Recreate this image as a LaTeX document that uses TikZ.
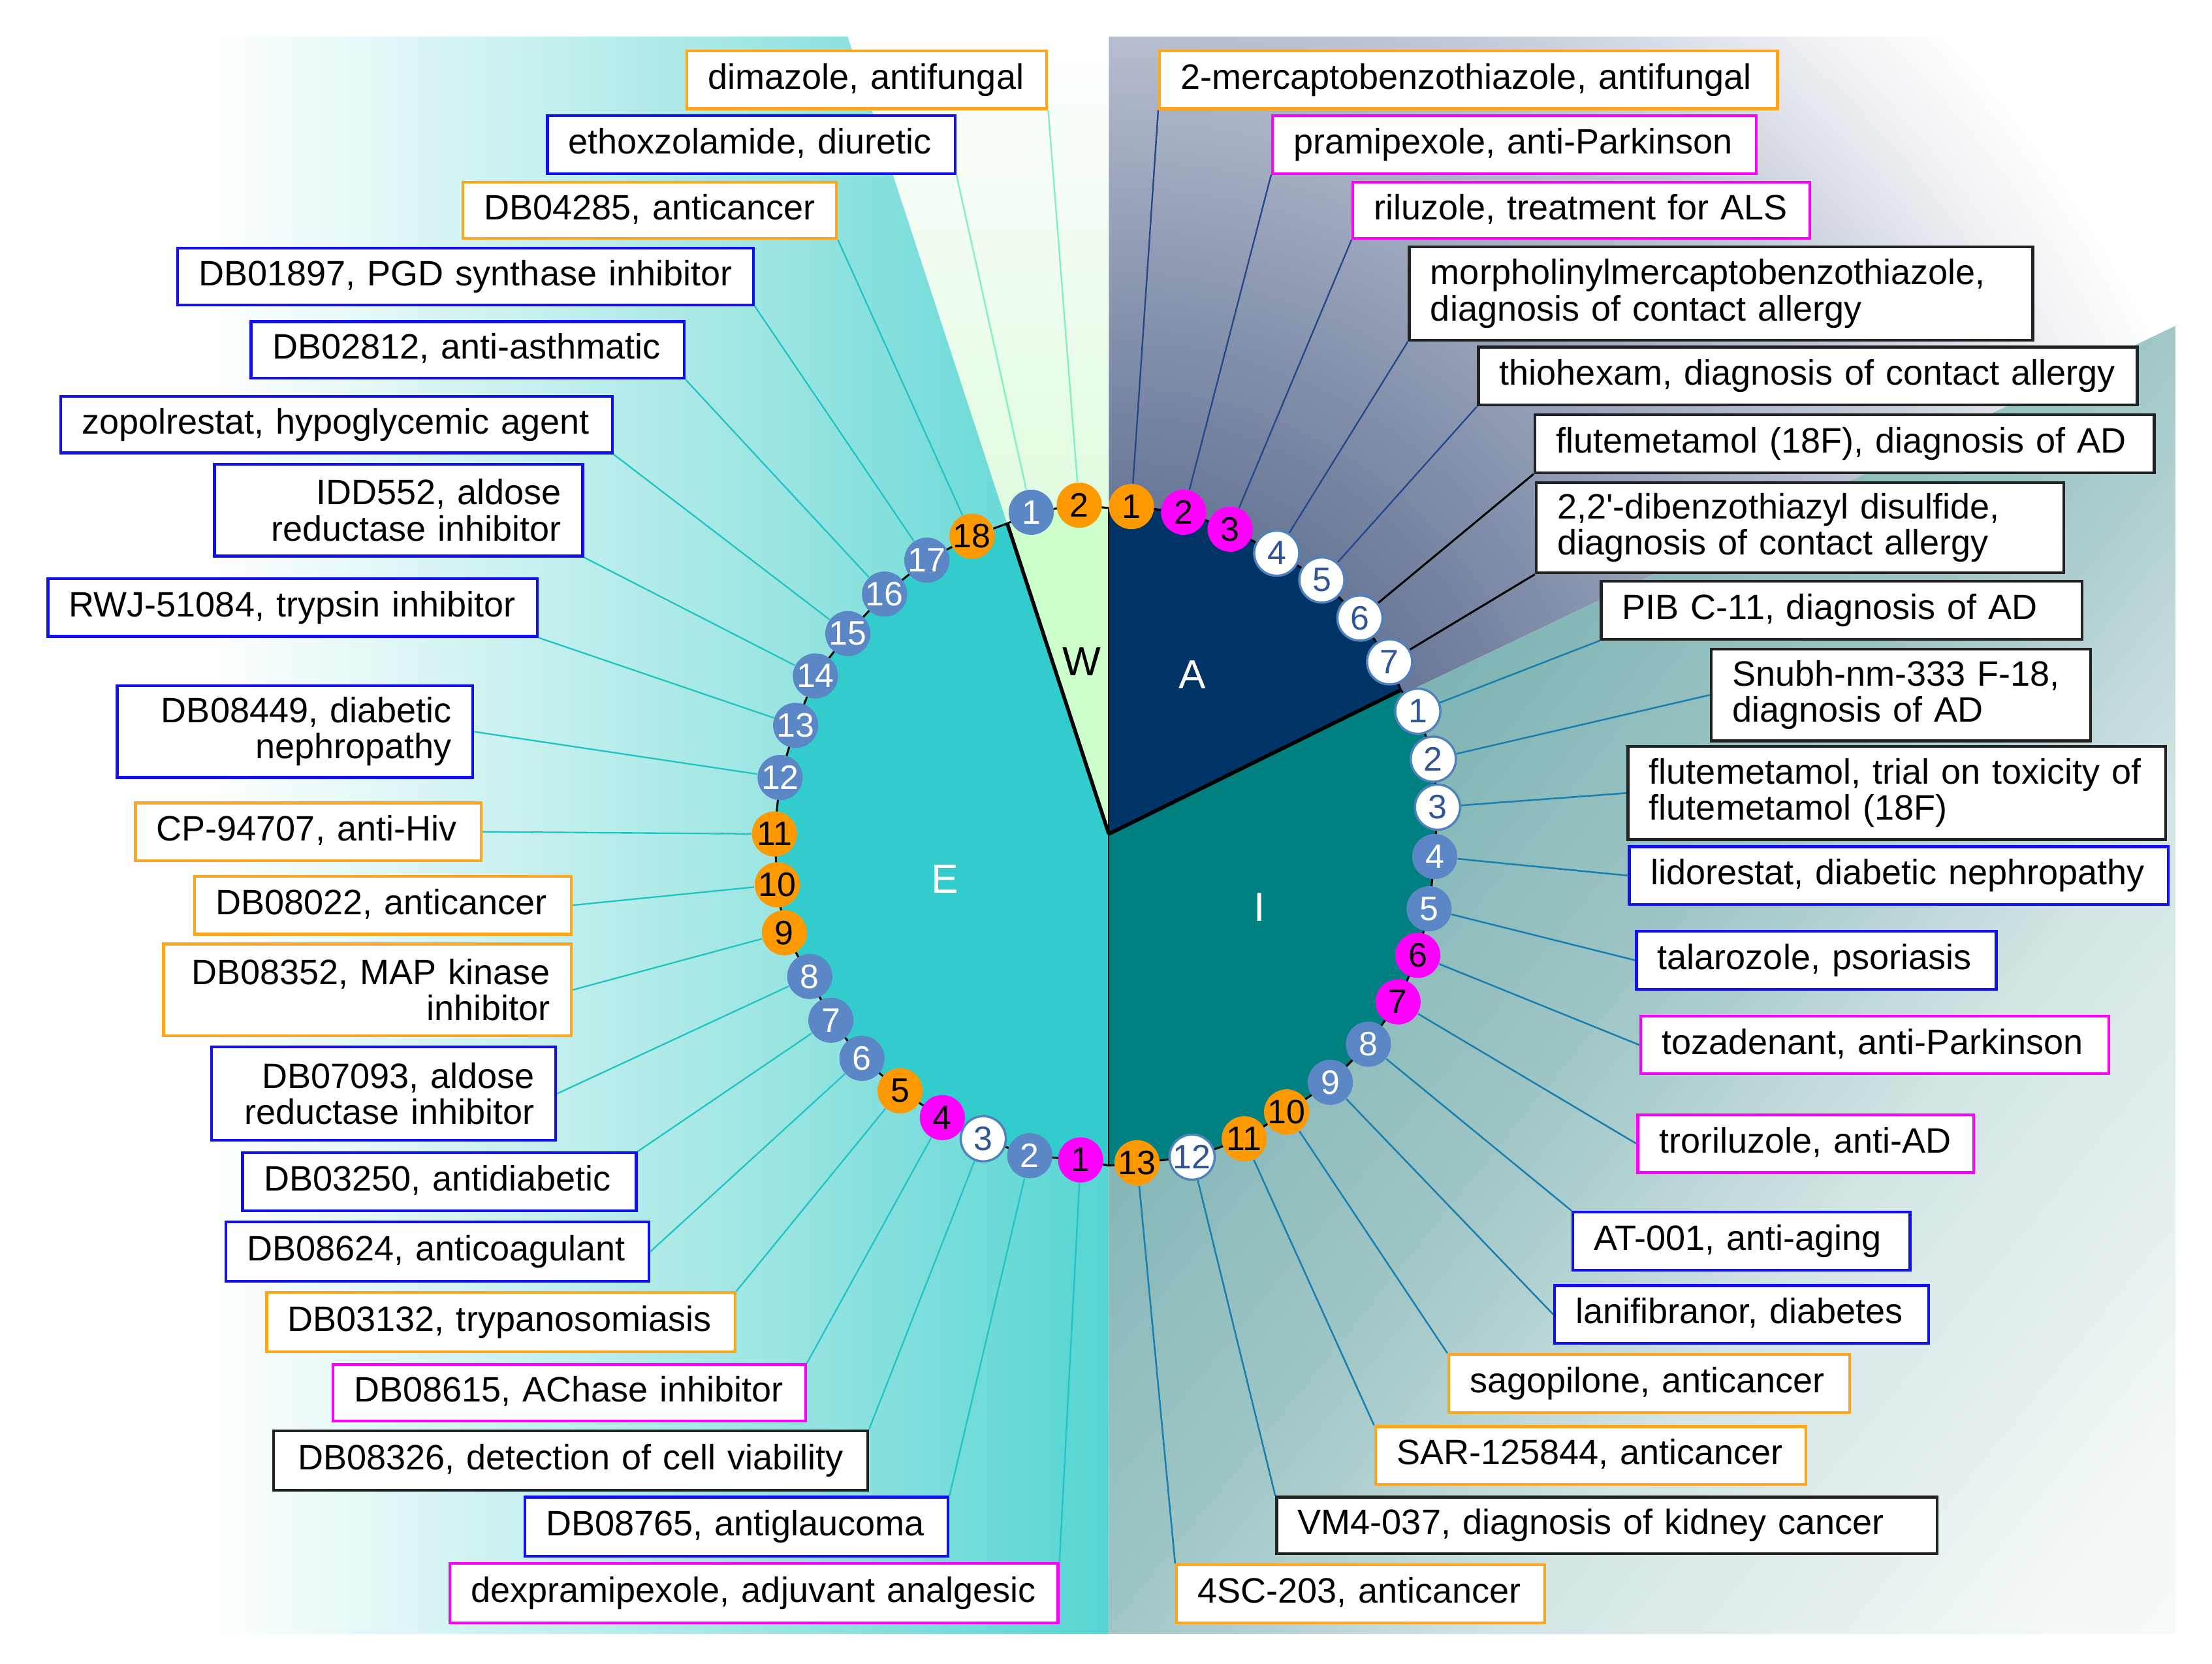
\documentclass[tikz,border=0pt]{standalone}
\usepackage{fontspec}
\setmainfont{Liberation Sans}[Ligatures=TeXOff]
\usetikzlibrary{calc}
\pgfdeclarelayer{back}
\pgfdeclarelayer{mid}
\pgfsetlayers{back,mid,main}
\definecolor{cE}{HTML}{33CCCC}
\definecolor{cW}{HTML}{CCFFCC}
\definecolor{cA}{HTML}{003366}
\definecolor{cI}{HTML}{008080}
\definecolor{e1}{HTML}{93E3E0}
\definecolor{e2}{HTML}{55D5D2}
\definecolor{wB}{HTML}{E0FBE0}
\definecolor{a0}{HTML}{56668A}
\definecolor{a1}{HTML}{6A7898}
\definecolor{a2}{HTML}{97A1B8}
\definecolor{a3}{HTML}{C4CAD8}
\definecolor{a4}{HTML}{ECEEF2}
\definecolor{i0}{HTML}{80B4B4}
\definecolor{i1}{HTML}{A0C6C6}
\definecolor{i2}{HTML}{D2E4E4}
\definecolor{i3}{HTML}{F4F8F8}
\definecolor{nblue}{HTML}{5B87C6}
\definecolor{norange}{HTML}{FF9900}
\definecolor{nmag}{HTML}{FF00FF}
\definecolor{nwb}{HTML}{4F81BD}
\definecolor{nwt}{HTML}{2F5597}
\definecolor{borange}{HTML}{FFA620}
\definecolor{bblue}{HTML}{1010F0}
\definecolor{bmag}{HTML}{FF00FF}
\definecolor{bblack}{HTML}{222222}
\definecolor{lE}{HTML}{22C4C4}
\definecolor{lW}{HTML}{80F0C8}
\definecolor{lA}{HTML}{24488A}
\definecolor{lI}{HTML}{1A80B0}
\pgfdeclareradialshading{abg}{\pgfpoint{0bp}{0bp}}{color(0bp)=(a0); color(7.3bp)=(a1); color(13.4bp)=(a2); color(18.9bp)=(a3); color(22.6bp)=(a4); color(25bp)=(white); color(50bp)=(white)}
\tikzset{
  numnode/.style={circle, minimum size=16pt, inner sep=0pt, font=\fontsize{12}{12}\selectfont},
  ndblue/.style={numnode, fill=nblue, text=white},
  ndorange/.style={numnode, fill=norange, text=black},
  ndmag/.style={numnode, fill=nmag, text=black},
  ndwhite/.style={numnode, fill=white, draw=nwb, line width=0.8pt, text=nwt},
  lbl/.style={rectangle, fill=white, line width=1pt, inner xsep=7.5pt, inner ysep=0pt, anchor=north west, font=\fontsize{12.5}{12.8}\selectfont},
  oneline/.style={text height=9.2pt, text depth=2.7pt},
  conE/.style={draw=lE, line width=0.55pt},
  conW/.style={draw=lW, line width=0.55pt},
  conA/.style={draw=lA, line width=0.55pt},
  conK/.style={draw=black, line width=0.7pt},
  conI/.style={draw=lI, line width=0.6pt},
  chain/.style={draw=black, line width=0.7pt},
  sect/.style={font=\fontsize{14.4}{15}\selectfont}
}
\newcommand\drugbox[8]{%
  \pgfmathsetmacro\bw{(#5-#3)*0.5}\pgfmathsetmacro\bh{(#6-#4)*0.5}\pgfmathsetmacro\tw{(#5-#3)*0.5-15}%
  \node[lbl, oneline, draw=#2, minimum width=\bw pt, minimum height=\bh pt, text width=\tw pt, align=#7] (#1) at (#3,#4) {\mbox{#8}};}
\newcommand\drugboxii[9]{%
  \pgfmathsetmacro\bw{(#5-#3)*0.5}\pgfmathsetmacro\bh{(#6-#4)*0.5}\pgfmathsetmacro\tw{(#5-#3)*0.5-15}%
  \node[lbl, draw=#2, minimum width=\bw pt, minimum height=\bh pt, text width=\tw pt, align=#7] (#1) at (#3,#4) {\mbox{#8}\\\mbox{#9}};}
\begin{document}
\begin{tikzpicture}[x=0.5pt, y=-0.5pt]
\useasboundingbox (0,0) rectangle (1568,1179);
% key points
\coordinate (C) at (786,591);
\coordinate (JT) at (786,360);
\coordinate (JAI) at (993,489);
\coordinate (JB) at (786,826);
\coordinate (JEW) at (714,371);
% numbered nodes
\node[ndblue] (W1) at (731,363) {1};
\node[ndorange] (W2) at (765,358) {2};
\node[ndorange] (A1) at (802,359) {1};
\node[ndmag] (A2) at (839,363) {2};
\node[ndmag] (A3) at (872,375) {3};
\node[ndwhite] (A4) at (905,392) {4};
\node[ndwhite] (A5) at (937,411) {5};
\node[ndwhite] (A6) at (964,438) {6};
\node[ndwhite] (A7) at (985,469) {7};
\node[ndwhite] (I1) at (1005,504) {1};
\node[ndwhite] (I2) at (1016,538) {2};
\node[ndwhite] (I3) at (1019,572) {3};
\node[ndblue] (I4) at (1017,607) {4};
\node[ndblue] (I5) at (1013,644) {5};
\node[ndmag] (I6) at (1005,677) {6};
\node[ndmag] (I7) at (991,710) {7};
\node[ndblue] (I8) at (970,740) {8};
\node[ndblue] (I9) at (943,767) {9};
\node[ndorange] (I10) at (912,788) {10};
\node[ndorange] (I11) at (882,807) {11};
\node[ndwhite] (I12) at (845,820) {12};
\node[ndorange] (I13) at (806,824) {13};
\node[ndmag] (E1) at (766,822) {1};
\node[ndblue] (E2) at (730,819) {2};
\node[ndwhite] (E3) at (697,807) {3};
\node[ndmag] (E4) at (668,792) {4};
\node[ndorange] (E5) at (638,773) {5};
\node[ndblue] (E6) at (611,750) {6};
\node[ndblue] (E7) at (589,723) {7};
\node[ndblue] (E8) at (574,692) {8};
\node[ndorange] (E9) at (556,661) {9};
\node[ndorange] (E10) at (551,627) {10};
\node[ndorange] (E11) at (549,591) {11};
\node[ndblue] (E12) at (553,551) {12};
\node[ndblue] (E13) at (564,514) {13};
\node[ndblue] (E14) at (578,479) {14};
\node[ndblue] (E15) at (601,449) {15};
\node[ndblue] (E16) at (627,421) {16};
\node[ndblue] (E17) at (657,397) {17};
\node[ndorange] (E18) at (689,380) {18};
% sector labels
\node[sect, text=black] (lbW) at (767,469) {W};
\node[sect, text=white] (lbA) at (845,478) {A};
\node[sect, text=white] (lbE) at (670,623) {E};
\node[sect, text=white] (lbI) at (893,643) {I};
% label boxes, left
\drugbox{bW2}{borange}{486}{35}{741}{76}{left}{dimazole, antifungal}
\drugbox{bW1}{bblue}{387}{81}{676}{122}{left}{ethoxzolamide, diuretic}
\drugbox{bE18}{borange}{327}{128}{592}{168}{left}{DB04285, anticancer}
\drugbox{bE17}{bblue}{125}{175}{533}{215}{left}{DB01897, PGD synthase inhibitor}
\drugbox{bE16}{bblue}{177}{227}{484}{267}{left}{DB02812, anti-asthmatic}
\drugbox{bE15}{bblue}{42}{280}{433}{320}{left}{zopolrestat, hypoglycemic agent}
\drugboxii{bE14}{bblue}{151}{328}{412}{393}{right}{IDD552, aldose}{reductase inhibitor}
\drugbox{bE13}{bblue}{33}{409}{380}{450}{left}{RWJ-51084, trypsin inhibitor}
\drugboxii{bE12}{bblue}{82}{485}{334}{550}{right}{DB08449, diabetic}{nephropathy}
\drugbox{bE11}{borange}{95}{568}{340}{609}{left}{CP-94707, anti-Hiv}
\drugbox{bE10}{borange}{137}{620}{404}{661}{left}{DB08022, anticancer}
\drugboxii{bE9}{borange}{115}{668}{404}{733}{right}{DB08352, MAP kinase}{inhibitor}
\drugboxii{bE8}{bblue}{149}{741}{393}{807}{right}{DB07093, aldose}{reductase inhibitor}
\drugbox{bE7}{bblue}{171}{816}{450}{857}{left}{DB03250, antidiabetic}
\drugbox{bE6}{bblue}{159}{865}{459}{907}{left}{DB08624, anticoagulant}
\drugbox{bE5}{borange}{188}{915}{520}{957}{left}{DB03132, trypanosomiasis}
\drugbox{bE4}{bmag}{235}{966}{570}{1006}{left}{DB08615, AChase inhibitor}
\drugbox{bE3}{bblack}{193}{1013}{614}{1055}{center}{DB08326, detection of cell viability}
\drugbox{bE2}{bblue}{371}{1060}{671}{1102}{left}{DB08765, antiglaucoma}
\drugbox{bE1}{bmag}{318}{1107}{749}{1149}{left}{dexpramipexole, adjuvant analgesic}
% label boxes, right
\drugbox{bA1}{borange}{821}{35}{1259}{76}{left}{2-mercaptobenzothiazole, antifungal}
\drugbox{bA2}{bmag}{901}{81}{1244}{122}{left}{pramipexole, anti-Parkinson}
\drugbox{bA3}{bmag}{958}{128}{1282}{168}{left}{riluzole, treatment for ALS}
\drugboxii{bA4}{bblack}{998}{174}{1440}{240}{left}{morpholinylmercaptobenzothiazole,}{diagnosis of contact allergy}
\drugbox{bA5}{bblack}{1047}{245}{1514}{286}{left}{thiohexam, diagnosis of contact allergy}
\drugbox{bA6}{bblack}{1087}{293}{1526}{334}{left}{flutemetamol (18F), diagnosis of AD}
\drugboxii{bA7}{bblack}{1088}{341}{1462}{405}{left}{2,2'-dibenzothiazyl disulfide,}{diagnosis of contact allergy}
\drugbox{bI1}{bblack}{1134}{411}{1475}{452}{left}{PIB C-11, diagnosis of AD}
\drugboxii{bI2}{bblack}{1212}{459}{1481}{524}{left}{Snubh-nm-333 F-18,}{diagnosis of AD}
\drugboxii{bI3}{bblack}{1153}{528}{1534}{594}{left}{flutemetamol, trial on toxicity of}{flutemetamol (18F)}
\drugbox{bI4}{bblue}{1154}{599}{1536}{640}{left}{lidorestat, diabetic nephropathy}
\drugbox{bI5}{bblue}{1159}{659}{1414}{700}{left}{talarozole, psoriasis}
\drugbox{bI6}{bmag}{1162}{719}{1494}{760}{left}{tozadenant, anti-Parkinson}
\drugbox{bI7}{bmag}{1160}{789}{1398}{830}{left}{troriluzole, anti-AD}
\drugbox{bI8}{bblue}{1114}{858}{1353}{899}{left}{AT-001, anti-aging}
\drugbox{bI9}{bblue}{1101}{910}{1366}{951}{left}{lanifibranor, diabetes}
\drugbox{bI10}{borange}{1026}{959}{1310}{1000}{left}{sagopilone, anticancer}
\drugbox{bI11}{borange}{974}{1010}{1279}{1051}{left}{SAR-125844, anticancer}
\drugbox{bI12}{bblack}{904}{1060}{1372}{1100}{left}{VM4-037, diagnosis of kidney cancer}
\drugbox{bI13}{borange}{833}{1108}{1094}{1149}{left}{4SC-203, anticancer}
% backgrounds and sectors
\begin{pgfonlayer}{back}
\fill[white] (0,0) rectangle (1568,1179);
\begin{scope}
\clip (C) -- (601,26) -- (0,26) -- (0,1158) -- (786,1158) -- cycle;
\shade[left color=white, right color=e1] (150,20) rectangle (581,1160);
\shade[left color=e1, right color=e2] (580,20) rectangle (787,1160);
\end{scope}
\begin{scope}
\clip (C) -- (601,26) -- (786,26) -- cycle;
\shade[top color=white, bottom color=wB] (590,26) rectangle (787,361);
\fill[wB] (590,360) rectangle (787,600);
\end{scope}
\begin{scope}
\clip (C) -- (786,26) -- (1542,26) -- (1542,231) -- cycle;
\shade[shading=abg] ($(C)+(-820,-820)$) rectangle ($(C)+(820,820)$);
\end{scope}
\begin{scope}
\clip (C) -- (1542,231) -- (1542,1158) -- (786,1158) -- cycle;
\begin{scope}[transform canvas={shift={(C)}, rotate=-39}]
\fill[i0] (-400,-1600) rectangle (118,1600);
\shade[left color=i0, right color=i1] (117,-1600) rectangle (358,1600);
\shade[left color=i1, right color=i2] (357,-1600) rectangle (568,1600);
\shade[left color=i2, right color=i3] (567,-1600) rectangle (878,1600);
\shade[left color=i3, right color=white] (877,-1600) rectangle (1100,1600);
\fill[white] (1099,-1600) rectangle (1800,1600);
\end{scope}
\end{scope}
% sector polygons
\fill[cA] (C) -- (JT) -- (A1.center) -- (A2.center) -- (A3.center) -- (A4.center) -- (A5.center) -- (A6.center) -- (A7.center) -- (JAI) -- cycle;
\fill[cI] (C) -- (JAI) -- (I1.center) -- (I2.center) -- (I3.center) -- (I4.center) -- (I5.center) -- (I6.center) -- (I7.center) -- (I8.center) -- (I9.center) -- (I10.center) -- (I11.center) -- (I12.center) -- (I13.center) -- (JB) -- cycle;
\fill[cE] (C) -- (JB) -- (E1.center) -- (E2.center) -- (E3.center) -- (E4.center) -- (E5.center) -- (E6.center) -- (E7.center) -- (E8.center) -- (E9.center) -- (E10.center) -- (E11.center) -- (E12.center) -- (E13.center) -- (E14.center) -- (E15.center) -- (E16.center) -- (E17.center) -- (E18.center) -- (JEW) -- cycle;
\fill[cW] (C) -- (JEW) -- (W1.center) -- (W2.center) -- (JT) -- cycle;
\end{pgfonlayer}
\begin{pgfonlayer}{mid}
% outline chain and radial lines
\draw[chain] (JT) -- (A1.center) -- (A2.center) -- (A3.center) -- (A4.center) -- (A5.center) -- (A6.center) -- (A7.center) -- (JAI) -- (I1.center) -- (I2.center) -- (I3.center) -- (I4.center) -- (I5.center) -- (I6.center) -- (I7.center) -- (I8.center) -- (I9.center) -- (I10.center) -- (I11.center) -- (I12.center) -- (I13.center) -- (JB) -- (E1.center) -- (E2.center) -- (E3.center) -- (E4.center) -- (E5.center) -- (E6.center) -- (E7.center) -- (E8.center) -- (E9.center) -- (E10.center) -- (E11.center) -- (E12.center) -- (E13.center) -- (E14.center) -- (E15.center) -- (E16.center) -- (E17.center) -- (E18.center) -- (JEW) -- (W1.center) -- (W2.center) -- cycle;
\draw[line width=1.3pt] (C) -- (JEW);
\draw[line width=1.3pt] (C) -- (JAI);
\draw[line width=0.5pt] (C) -- (JT);
\draw[line width=0.5pt] (C) -- (JB);
% connectors
\draw[conW] (W2) -- (bW2.south east);
\draw[conW] (W1) -- (bW1.south east);
\draw[conE] (E18) -- (bE18.south east);
\draw[conE] (E17) -- (bE17.south east);
\draw[conE] (E16) -- (bE16.south east);
\draw[conE] (E15) -- (bE15.south east);
\draw[conE] (E14) -- (bE14.south east);
\draw[conE] (E13) -- (bE13.south east);
\draw[conE] (E12) -- (bE12.east);
\draw[conE] (E11) -- (bE11.east);
\draw[conE] (E10) -- (bE10.east);
\draw[conE] (E9) -- (bE9.east);
\draw[conE] (E8) -- (bE8.east);
\draw[conE] (E7) -- (bE7.north east);
\draw[conE] (E6) -- (bE6.east);
\draw[conE] (E5) -- (bE5.north east);
\draw[conE] (E4) -- (bE4.north east);
\draw[conE] (E3) -- (bE3.north east);
\draw[conE] (E2) -- (bE2.north east);
\draw[conE] (E1) -- (bE1.north east);
\draw[conA] (A1) -- (bA1.south west);
\draw[conA] (A2) -- (bA2.south west);
\draw[conA] (A3) -- (bA3.south west);
\draw[conA] (A4) -- (bA4.south west);
\draw[conA] (A5) -- (bA5.south west);
\draw[conK] (A6) -- (bA6.south west);
\draw[conK] (A7) -- (bA7.south west);
\draw[conI] (I1) -- (bI1.south west);
\draw[conI] (I2) -- (bI2.west);
\draw[conI] (I3) -- (bI3.west);
\draw[conI] (I4) -- (bI4.west);
\draw[conI] (I5) -- (bI5.west);
\draw[conI] (I6) -- (bI6.west);
\draw[conI] (I7) -- (bI7.west);
\draw[conI] (I8) -- (bI8.north west);
\draw[conI] (I9) -- (bI9.west);
\draw[conI] (I10) -- (bI10.north west);
\draw[conI] (I11) -- (bI11.north west);
\draw[conI] (I12) -- (bI12.north west);
\draw[conI] (I13) -- (bI13.north west);
\end{pgfonlayer}
\end{tikzpicture}
\end{document}
